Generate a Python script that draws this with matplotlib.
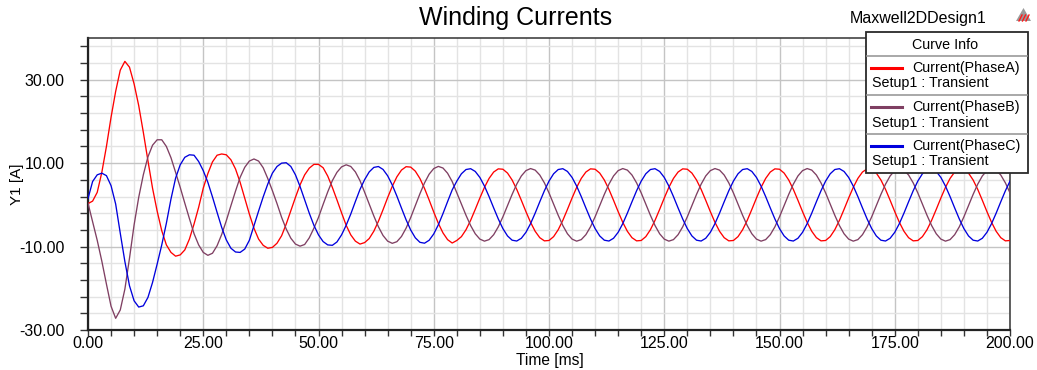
import numpy as np
import matplotlib
matplotlib.use("Agg")
import matplotlib.pyplot as plt
from matplotlib.ticker import MultipleLocator, FixedLocator, FormatStrFormatter
from matplotlib.patches import Rectangle, Polygon
from matplotlib.lines import Line2D

plt.rcParams['font.family'] = ['Liberation Sans', 'DejaVu Sans']

# time axis, one sample per ms
time_ms = np.arange(0, 201, 1.0)

# Current(PhaseA) [A]
phase_a = [
    0.3, 0.9, 3.0, 7.8, 14.0, 21.0, 27.2, 32.3, 34.4, 33.0,
    29.0, 23.8, 17.4, 10.6, 4.0, -1.5, -6.2, -9.6, -11.4, -12.3,
    -12.0, -10.8, -8.2, -4.6, -0.6, 4.0, 7.5, 10.3, 11.9, 12.2,
    12.0, 10.8, 8.6, 5.4, 1.6, -2.2, -5.6, -8.2, -9.7, -10.4,
    -10.2, -9.2, -7.4, -4.6, -1.4, 1.8, 4.8, 7.2, 8.8, 9.7,
    9.7, 8.9, 6.9, 4.2, 1.2, -1.9, -4.9, -7.2, -8.7, -9.4,
    -9.05, -8.08, -6.32, -3.93, -1.16, 1.73, 4.44, 6.72, 8.34, 9.15,
    9.05, 8.08, 6.32, 3.93, 1.16, -1.73, -4.44, -6.72, -8.34, -9.15,
    -8.54, -7.62, -5.96, -3.71, -1.09, 1.63, 4.19, 6.34, 7.87, 8.63,
    8.54, 7.62, 5.96, 3.71, 1.09, -1.63, -4.19, -6.34, -7.87, -8.63,
    -8.54, -7.62, -5.96, -3.71, -1.09, 1.63, 4.19, 6.34, 7.87, 8.63,
    8.54, 7.62, 5.96, 3.71, 1.09, -1.63, -4.19, -6.34, -7.87, -8.63,
    -8.54, -7.62, -5.96, -3.71, -1.09, 1.63, 4.19, 6.34, 7.87, 8.63,
    8.54, 7.62, 5.96, 3.71, 1.09, -1.63, -4.19, -6.34, -7.87, -8.63,
    -8.54, -7.62, -5.96, -3.71, -1.09, 1.63, 4.19, 6.34, 7.87, 8.63,
    8.54, 7.62, 5.96, 3.71, 1.09, -1.63, -4.19, -6.34, -7.87, -8.63,
    -8.54, -7.62, -5.96, -3.71, -1.09, 1.63, 4.19, 6.34, 7.87, 8.63,
    8.54, 7.62, 5.96, 3.71, 1.09, -1.63, -4.19, -6.34, -7.87, -8.63,
    -8.54, -7.62, -5.96, -3.71, -1.09, 1.63, 4.19, 6.34, 7.87, 8.63,
    8.54, 7.62, 5.96, 3.71, 1.09, -1.63, -4.19, -6.34, -7.87, -8.63,
    -8.54,
]

# Current(PhaseB) [A]
phase_b = [
    0.4, -4.0, -8.5, -13.5, -19.0, -24.3, -27.2, -25.2, -20.2, -12.8,
    -4.8, 1.8, 7.2, 11.5, 14.3, 15.6, 15.6, 14.0, 11.3, 7.8,
    4.2, 0.4, -3.3, -6.9, -9.6, -11.4, -12.1, -11.6, -9.8, -7.1,
    -3.8, -0.2, 3.3, 6.6, 9.0, 10.5, 11.0, 10.5, 8.9, 6.3,
    3.4, 0.3, -3.0, -5.8, -8.0, -9.4, -9.9, -9.5, -7.9, -5.6,
    -3.0, 0.1, 3.1, 5.8, 7.8, 9.1, 9.6, 9.2, 7.9, 5.8,
    3.04, 0.20, -2.66, -5.26, -7.35, -8.70, -9.22, -8.83, -7.58, -5.59,
    -3.04, -0.20, 2.66, 5.26, 7.35, 8.70, 9.22, 8.83, 7.58, 5.59,
    2.87, 0.19, -2.51, -4.96, -6.93, -8.21, -8.70, -8.33, -7.15, -5.27,
    -2.87, -0.19, 2.51, 4.96, 6.93, 8.21, 8.70, 8.33, 7.15, 5.27,
    2.87, 0.19, -2.51, -4.96, -6.93, -8.21, -8.70, -8.33, -7.15, -5.27,
    -2.87, -0.19, 2.51, 4.96, 6.93, 8.21, 8.70, 8.33, 7.15, 5.27,
    2.87, 0.19, -2.51, -4.96, -6.93, -8.21, -8.70, -8.33, -7.15, -5.27,
    -2.87, -0.19, 2.51, 4.96, 6.93, 8.21, 8.70, 8.33, 7.15, 5.27,
    2.87, 0.19, -2.51, -4.96, -6.93, -8.21, -8.70, -8.33, -7.15, -5.27,
    -2.87, -0.19, 2.51, 4.96, 6.93, 8.21, 8.70, 8.33, 7.15, 5.27,
    2.87, 0.19, -2.51, -4.96, -6.93, -8.21, -8.70, -8.33, -7.15, -5.27,
    -2.87, -0.19, 2.51, 4.96, 6.93, 8.21, 8.70, 8.33, 7.15, 5.27,
    2.87, 0.19, -2.51, -4.96, -6.93, -8.21, -8.70, -8.33, -7.15, -5.27,
    -2.87, -0.19, 2.51, 4.96, 6.93, 8.21, 8.70, 8.33, 7.15, 5.27,
    2.87,
]

# Current(PhaseC) [A]
phase_c = [
    1.5, 5.6, 7.2, 7.6, 7.0, 4.6, 0.2, -6.8, -13.6, -19.4,
    -23.0, -24.5, -24.2, -22.2, -18.6, -14.2, -9.6, -4.4, 1.4, 6.4,
    9.6, 11.4, 12.0, 11.9, 10.4, 8.2, 5.4, 1.9, -1.8, -5.4,
    -8.4, -10.4, -11.3, -11.4, -10.6, -8.5, -5.0, -1.5, 1.9, 5.0,
    7.6, 9.2, 10.0, 10.1, 9.2, 7.2, 4.4, 1.2, -2.0, -4.9,
    -7.2, -8.8, -9.6, -9.7, -8.9, -7.2, -4.9, -2.2, 0.8, 3.7,
    6.03, 7.90, 8.98, 9.19, 8.49, 6.97, 4.77, 2.10, -0.78, -3.58,
    -6.03, -7.90, -8.98, -9.19, -8.49, -6.97, -4.77, -2.10, 0.78, 3.58,
    5.69, 7.45, 8.47, 8.67, 8.01, 6.58, 4.50, 1.98, -0.74, -3.38,
    -5.69, -7.45, -8.47, -8.67, -8.01, -6.58, -4.50, -1.98, 0.74, 3.38,
    5.69, 7.45, 8.47, 8.67, 8.01, 6.58, 4.50, 1.98, -0.74, -3.38,
    -5.69, -7.45, -8.47, -8.67, -8.01, -6.58, -4.50, -1.98, 0.74, 3.38,
    5.69, 7.45, 8.47, 8.67, 8.01, 6.58, 4.50, 1.98, -0.74, -3.38,
    -5.69, -7.45, -8.47, -8.67, -8.01, -6.58, -4.50, -1.98, 0.74, 3.38,
    5.69, 7.45, 8.47, 8.67, 8.01, 6.58, 4.50, 1.98, -0.74, -3.38,
    -5.69, -7.45, -8.47, -8.67, -8.01, -6.58, -4.50, -1.98, 0.74, 3.38,
    5.69, 7.45, 8.47, 8.67, 8.01, 6.58, 4.50, 1.98, -0.74, -3.38,
    -5.69, -7.45, -8.47, -8.67, -8.01, -6.58, -4.50, -1.98, 0.74, 3.38,
    5.69, 7.45, 8.47, 8.67, 8.01, 6.58, 4.50, 1.98, -0.74, -3.38,
    -5.69, -7.45, -8.47, -8.67, -8.01, -6.58, -4.50, -1.98, 0.74, 3.38,
    5.69,
]

curve_names = ['Current(PhaseA)', 'Current(PhaseB)', 'Current(PhaseC)']
curve_colors = ['#ff0000', '#7f3f62', '#0000dd']
series = [phase_a, phase_b, phase_c]

W, H = 1037, 370
fig = plt.figure(figsize=(W / 100, H / 100), dpi=100)
ax = fig.add_axes([88 / W, 1 - 330 / H, (1010 - 88) / W, (330 - 38) / H])


def px(x, y):
    # figure pixel (from top-left) -> figure fraction
    return x / W, 1 - y / H


for vals, col in zip(series, curve_colors):
    ax.plot(time_ms, vals, color=col, lw=0.95, zorder=3)

ax.set_xlim(0, 200)
ax.set_ylim(-30, 40)
ax.xaxis.set_major_locator(MultipleLocator(25))
ax.xaxis.set_minor_locator(MultipleLocator(5))
ax.yaxis.set_major_locator(FixedLocator([-30, -10, 10, 30]))
ax.yaxis.set_minor_locator(FixedLocator(np.arange(-30, 41, 4)))
ax.xaxis.set_major_formatter(FormatStrFormatter('%.2f'))
ax.yaxis.set_major_formatter(FormatStrFormatter('%.2f'))

ax.grid(which='minor', color='#e3e3e3', lw=1.0, zorder=0)
ax.grid(which='major', color='#c4c4c4', lw=1.0, zorder=1)
ax.set_axisbelow(True)

ax.tick_params(axis='y', which='both', direction='out', length=5.5, width=1, color='#333333')
ax.tick_params(axis='y', which='major', pad=11.5, labelsize=11.5)
ax.tick_params(axis='x', which='both', direction='out', length=4, width=1, color='#333333')
ax.tick_params(axis='x', which='major', pad=0.5, labelsize=11.5)

for side in ['left', 'bottom']:
    ax.spines[side].set_linewidth(1.6)
    ax.spines[side].set_color('#222222')
for side in ['top', 'right']:
    ax.spines[side].set_linewidth(1.1)
    ax.spines[side].set_color('#333333')

# titles and axis labels
fig.text(*px(516, 18), 'Winding Currents', fontsize=18, ha='center', va='center')
fig.text(*px(918, 19), 'Maxwell2DDesign1', fontsize=11.5, ha='center', va='center')
fig.text(*px(550, 360), 'Time [ms]', fontsize=11.2, ha='center', va='center')
fig.text(*px(17, 184), 'Y1 [A]', fontsize=11, ha='center', va='center', rotation=90)

# little logo at top right
tri = Polygon([px(1016, 21), px(1031, 21), px(1023.5, 8)], closed=True,
              transform=fig.transFigure, facecolor='#9a9a9a', edgecolor='none', zorder=10)
fig.add_artist(tri)
for k in range(3):
    x0 = 1019 + k * 3.5
    fig.add_artist(Line2D([x0 / W, (x0 + 3) / W], [1 - 21 / H, 1 - 15 / H],
                          transform=fig.transFigure, color='#ff1a1a', lw=1.0, zorder=11))

# curve info box
box_l, box_r, box_t, box_b = 866, 1028, 32, 173
fig.add_artist(Rectangle(px(box_l, box_b), (box_r - box_l) / W, (box_b - box_t) / H,
                         transform=fig.transFigure, facecolor='white',
                         edgecolor='#2a2a2a', lw=1.3, zorder=10))
for ys in [56, 95, 134]:
    fig.add_artist(Line2D([(box_l + 1) / W, (box_r - 1) / W], [1 - ys / H, 1 - ys / H],
                          transform=fig.transFigure, color='#9a9a9a', lw=1.2, zorder=11))
fig.text(*px(945, 45), 'Curve Info', fontsize=10.3, ha='center', va='center', zorder=12)

row_tops = [56, 95, 134]
for top, name, col in zip(row_tops, curve_names, curve_colors):
    yl = top + 12
    fig.add_artist(Line2D([871 / W, 902 / W], [1 - yl / H, 1 - yl / H],
                          transform=fig.transFigure, color=col, lw=2.2, zorder=12))
    fig.text(*px(912.5, yl), name, fontsize=10.3, ha='left', va='center', zorder=12)
    fig.text(*px(871.5, yl + 15.5), 'Setup1 : Transient', fontsize=10.3,
             ha='left', va='center', zorder=12)

fig.savefig('out.png', dpi=100)
